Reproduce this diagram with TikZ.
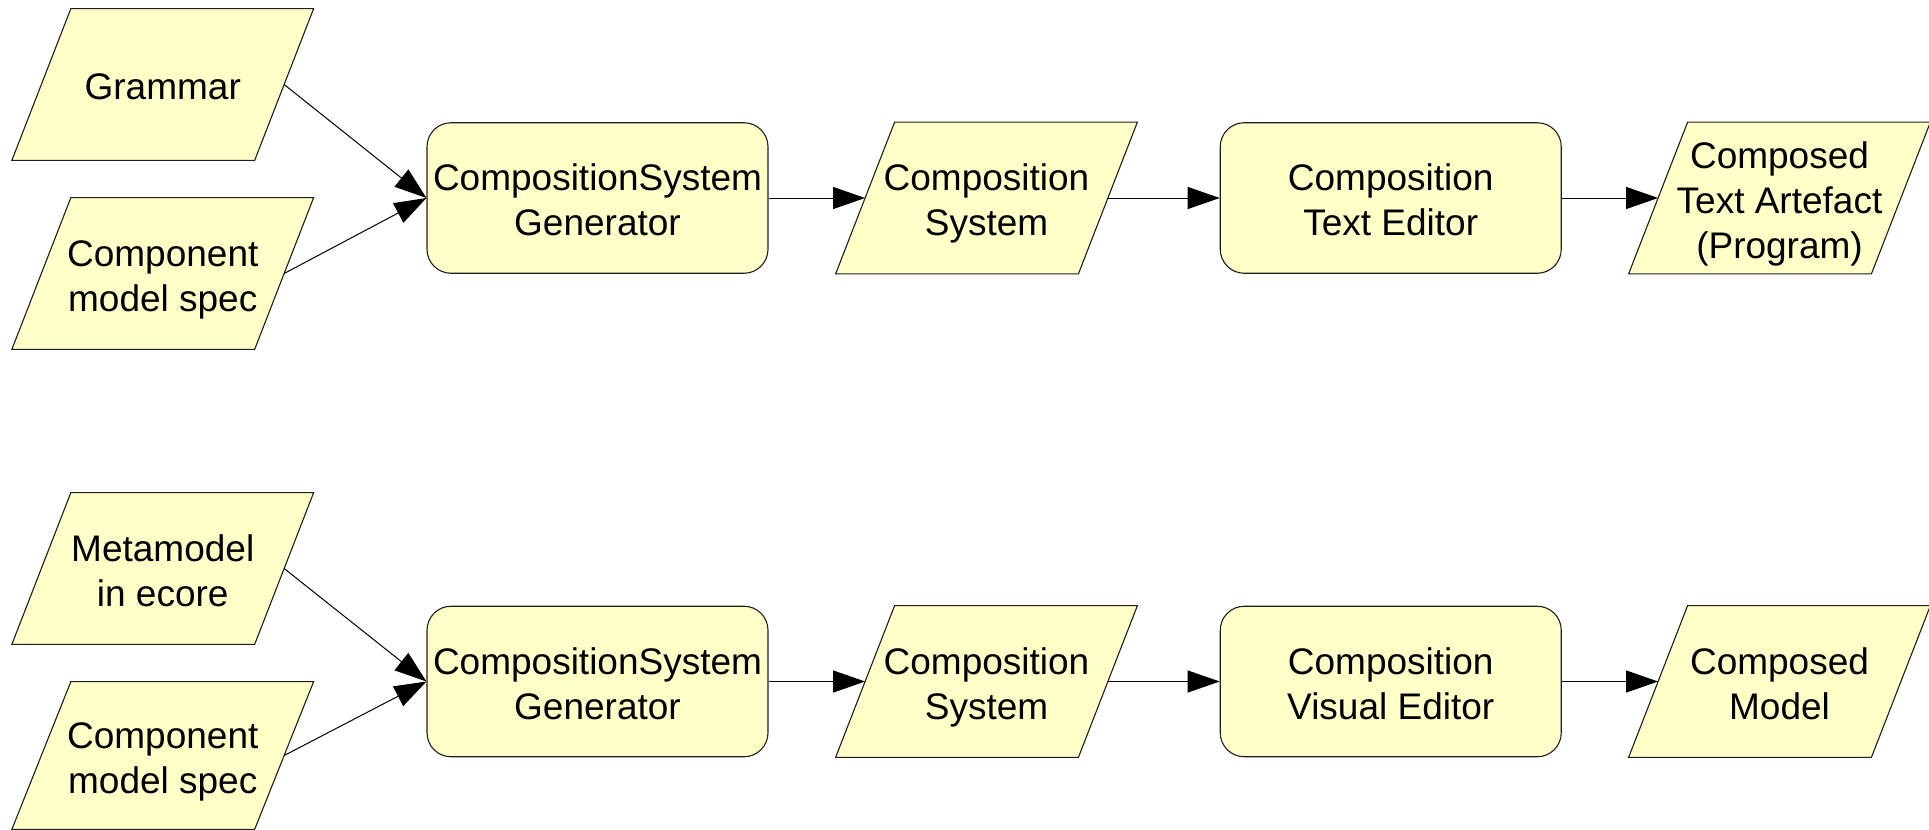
\documentclass[tikz,border=0pt]{standalone}
\usepackage{fontspec}
\setmainfont{Liberation Sans}
\usetikzlibrary{arrows.meta,backgrounds}
\definecolor{boxfill}{RGB}{255,255,200}
\definecolor{boxline}{RGB}{30,30,30}
% each text line sits in a fixed 22.5pt slot: struts on the first and last line
\newcommand\topstrut{\rule{0pt}{18.9pt}}
\newcommand\botstrut{\rule[-3.6pt]{0pt}{3.6pt}}
\begin{document}
\begin{tikzpicture}[x=0.5pt,y=-0.5pt,
  lbl/.style={font=\fontsize{18.5}{22.5}\selectfont, align=center, inner sep=0pt},
  datanode/.style={lbl, minimum width=121pt, minimum height=75.5pt},
  procnode/.style={lbl, draw=boxline, fill=boxfill, line width=0.55pt,
    rounded corners=12pt, minimum width=170.5pt, minimum height=75.25pt},
  paraedge/.style={draw=boxline, fill=boxfill, line width=0.55pt, line join=miter},
  flow/.style={draw=black, line width=0.5pt, -{Triangle[length=16pt,width=11pt]}},
]
\useasboundingbox (0,0) rectangle (1929,830);

% text-based pipeline
\node[datanode] (g1)   at (162.75,84.5)  {\topstrut Grammar\botstrut};
\node[datanode] (s1)   at (162.75,273.5) {\topstrut Component\\model spec\botstrut};
\node[procnode] (gen1) at (597.5,198)    {\topstrut CompositionSystem\\Generator\botstrut};
\node[datanode] (cs1)  at (986.5,198)    {\topstrut Composition\\System\botstrut};
\node[procnode] (ed1)  at (1390.75,198)  {\topstrut Composition\\Text Editor\botstrut};
\node[datanode] (out1) at (1779.5,198)   {\topstrut Composed\\Text Artefact\\(Program)\botstrut};

% model-based pipeline
\node[datanode] (m2)   at (162.75,568.5) {\topstrut Metamodel\\in ecore\botstrut};
\node[datanode, minimum height=73.5pt] (s2) at (162.75,755.5) {\topstrut Component\\model spec\botstrut};
\node[procnode] (gen2) at (597.5,681.5)  {\topstrut CompositionSystem\\Generator\botstrut};
\node[datanode] (cs2)  at (986.5,681.5)  {\topstrut Composition\\System\botstrut};
\node[procnode] (ed2)  at (1390.75,681.5){\topstrut Composition\\Visual Editor\botstrut};
\node[datanode] (out2) at (1779.5,681.5) {\topstrut Composed\\Model\botstrut};

% slanted outlines of the data items, behind their labels
\begin{scope}[on background layer]
  \foreach \n in {g1,s1,cs1,out1,m2,s2,cs2,out2}
    \path[paraedge] ([xshift=14.75pt]\n.north west) -- ([xshift=14.75pt]\n.north east)
      -- ([xshift=-14.75pt]\n.south east) -- ([xshift=-14.75pt]\n.south west) -- cycle;
\end{scope}

% connectors
\draw[flow] (g1.east)   -- (gen1.west);
\draw[flow] (s1.east)   -- (gen1.west);
\draw[flow] (gen1.east) -- (cs1.west);
\draw[flow] (cs1.east)  -- (ed1.west);
\draw[flow] (ed1.east)  -- (out1.west);

\draw[flow] (m2.east)   -- (gen2.west);
\draw[flow] (s2.east)   -- (gen2.west);
\draw[flow] (gen2.east) -- (cs2.west);
\draw[flow] (cs2.east)  -- (ed2.west);
\draw[flow] (ed2.east)  -- (out2.west);
\end{tikzpicture}
\end{document}
